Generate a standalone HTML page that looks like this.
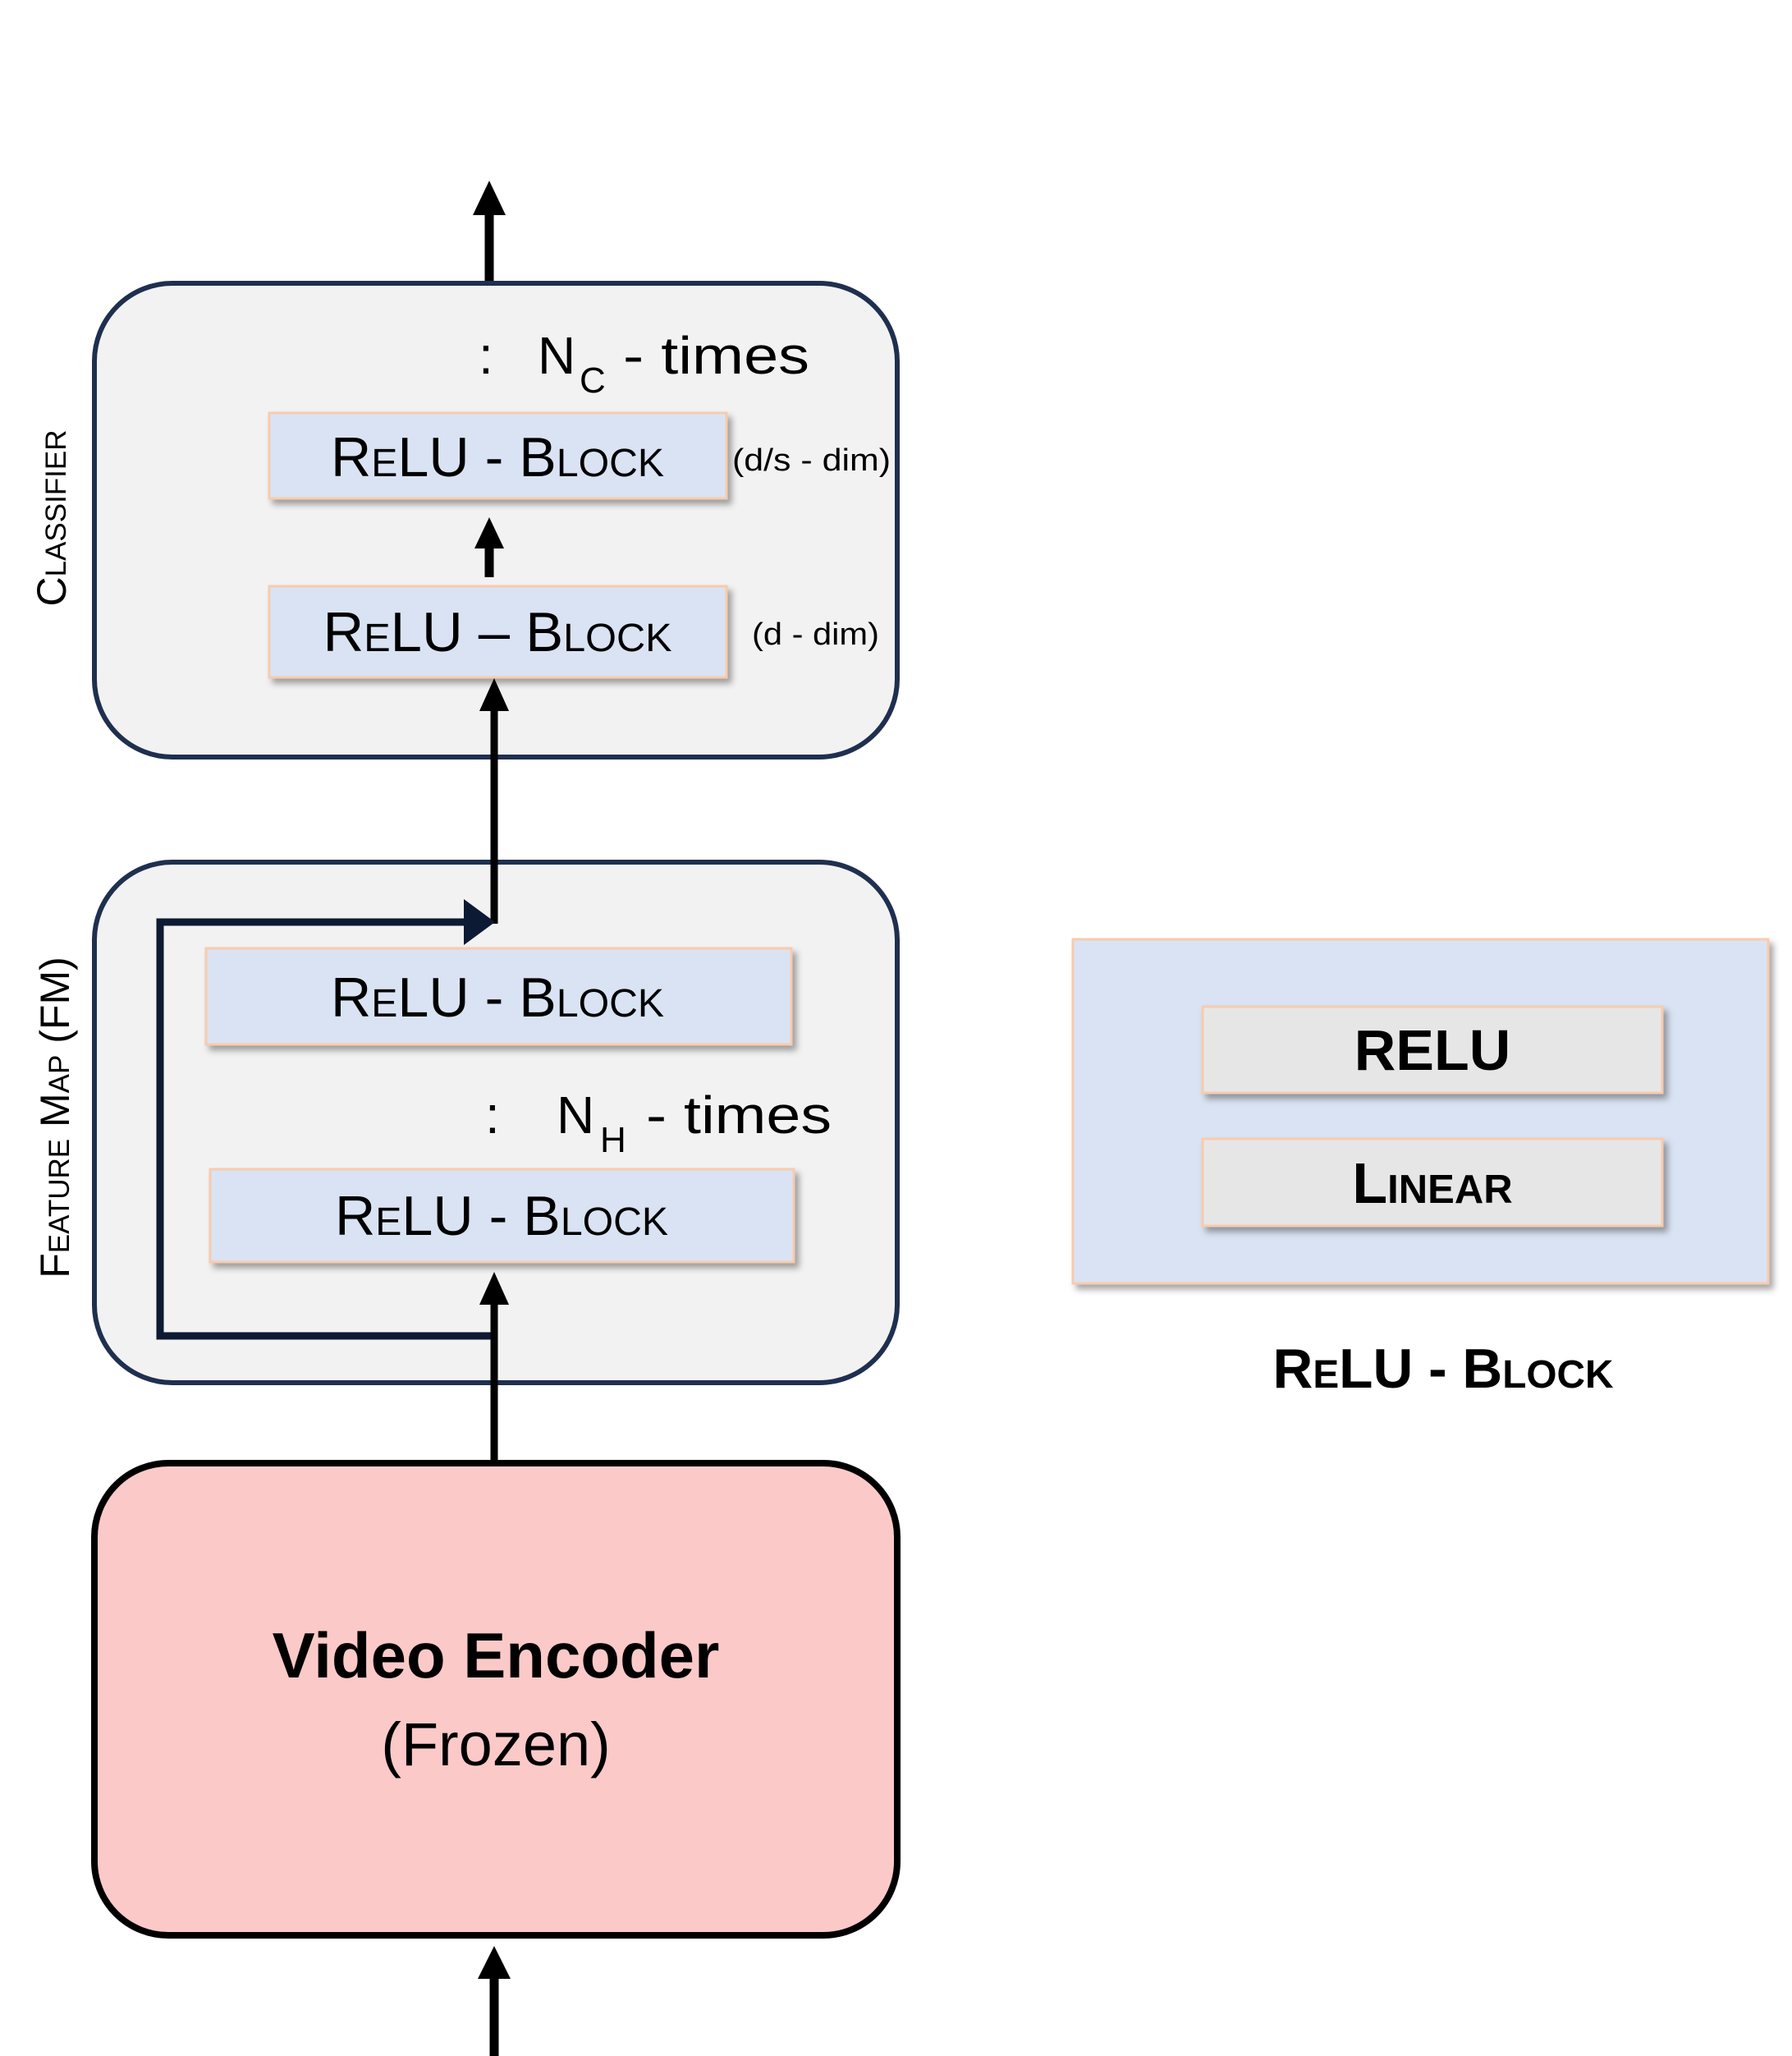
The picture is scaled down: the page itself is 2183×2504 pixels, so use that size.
<!DOCTYPE html>
<html><head><meta charset="utf-8">
<style>
html,body{margin:0;padding:0;background:#fff;}
svg{display:block;}
text{font-family:"Liberation Sans",sans-serif;}
</style></head>
<body>
<svg width="2183" height="2504" viewBox="0 0 2183 2504" xmlns="http://www.w3.org/2000/svg">
<defs>
<filter id="sh" x="-10%" y="-20%" width="130%" height="160%">
<feDropShadow dx="5" dy="6" stdDeviation="4" flood-color="#000" flood-opacity="0.35"/>
</filter>
</defs>

<line x1="596" y1="345" x2="596" y2="260" stroke="#000" stroke-width="11"/>
<polygon points="596,220 576,262 616,262" fill="#000"/>

<rect x="115" y="345" width="978" height="577" rx="95" fill="#f2f2f2" stroke="#1f2f4f" stroke-width="6"/>
<text transform="translate(80,631) rotate(-90)" text-anchor="middle" font-size="50" style="font-variant:small-caps" fill="#000">Classifier</text>

<text x="583" y="455" font-size="64" fill="#000">:</text>
<text x="655" y="455" font-size="64" fill="#000">N</text>
<text x="706" y="478" font-size="44" fill="#000">C</text>
<text x="759" y="455" font-size="64" fill="#000" textLength="227" lengthAdjust="spacingAndGlyphs">- times</text>

<rect x="328" y="503" width="557" height="104" fill="#dae3f3" stroke="#f8cbad" stroke-width="3" filter="url(#sh)"/>
<text x="606" y="580" text-anchor="middle" font-size="68" style="font-variant:small-caps" textLength="406" lengthAdjust="spacingAndGlyphs">ReLU - Block</text>
<text x="892" y="573" font-size="38" textLength="193" lengthAdjust="spacingAndGlyphs">(d/s - dim)</text>

<line x1="596" y1="703" x2="596" y2="665" stroke="#000" stroke-width="11"/>
<polygon points="596,630 578,668 614,668" fill="#000"/>

<rect x="328" y="714" width="557" height="111" fill="#dae3f3" stroke="#f8cbad" stroke-width="3" filter="url(#sh)"/>
<text x="606" y="793" text-anchor="middle" font-size="68" style="font-variant:small-caps" textLength="425" lengthAdjust="spacingAndGlyphs">ReLU – Block</text>
<text x="916" y="785" font-size="38" textLength="155" lengthAdjust="spacingAndGlyphs">(d - dim)</text>

<rect x="115" y="1050" width="978" height="634" rx="95" fill="#f2f2f2" stroke="#1f2f4f" stroke-width="6"/>
<text transform="translate(84,1361) rotate(-90)" text-anchor="middle" font-size="50" style="font-variant:small-caps" fill="#000">Feature Map (FM)</text>

<line x1="602" y1="1125" x2="602" y2="862" stroke="#000" stroke-width="9"/>
<polygon points="602,826 584,866 620,866" fill="#000"/>

<rect x="251" y="1155" width="713" height="117" fill="#dae3f3" stroke="#f8cbad" stroke-width="3" filter="url(#sh)"/>
<text x="606" y="1238" text-anchor="middle" font-size="68" style="font-variant:small-caps" textLength="406" lengthAdjust="spacingAndGlyphs">ReLU - Block</text>

<text x="591" y="1380" font-size="64">:</text>
<text x="678" y="1380" font-size="64">N</text>
<text x="731" y="1403" font-size="44">H</text>
<text x="787" y="1380" font-size="64" textLength="226" lengthAdjust="spacingAndGlyphs">- times</text>

<rect x="256" y="1424" width="711" height="113" fill="#dae3f3" stroke="#f8cbad" stroke-width="3" filter="url(#sh)"/>
<text x="611" y="1504" text-anchor="middle" font-size="68" style="font-variant:small-caps" textLength="406" lengthAdjust="spacingAndGlyphs">ReLU - Block</text>

<polyline points="602,1627 195,1627 195,1123 565,1123" fill="none" stroke="#0d1a33" stroke-width="9"/>
<polygon points="565,1095 603,1123 565,1151" fill="#0d1a33"/>

<line x1="602" y1="1782" x2="602" y2="1585" stroke="#000" stroke-width="9"/>
<polygon points="602,1549 584,1589 620,1589" fill="#000"/>

<rect x="115" y="1782" width="978" height="575" rx="90" fill="#fcc9c9" stroke="#000" stroke-width="8"/>
<text x="604" y="2043" text-anchor="middle" font-size="78" font-weight="bold">Video Encoder</text>
<text x="604" y="2150" text-anchor="middle" font-size="74">(Frozen)</text>

<line x1="602" y1="2504" x2="602" y2="2405" stroke="#000" stroke-width="11"/>
<polygon points="602,2370 582,2410 622,2410" fill="#000"/>

<rect x="1307" y="1144" width="847" height="419" fill="#dae3f3" stroke="#f8cbad" stroke-width="3" filter="url(#sh)"/>
<rect x="1465" y="1226" width="560" height="105" fill="#e6e6e6" stroke="#f8cbad" stroke-width="3" filter="url(#sh)"/>
<text x="1745" y="1303" text-anchor="middle" font-size="70" font-weight="bold">RELU</text>
<rect x="1465" y="1387" width="560" height="106" fill="#e6e6e6" stroke="#f8cbad" stroke-width="3" filter="url(#sh)"/>
<text x="1745" y="1465" text-anchor="middle" font-size="70" font-weight="bold" style="font-variant:small-caps">Linear</text>

<text x="1758" y="1690" text-anchor="middle" font-size="68" font-weight="bold" style="font-variant:small-caps" textLength="415" lengthAdjust="spacingAndGlyphs">ReLU - Block</text>
</svg>
</body></html>
